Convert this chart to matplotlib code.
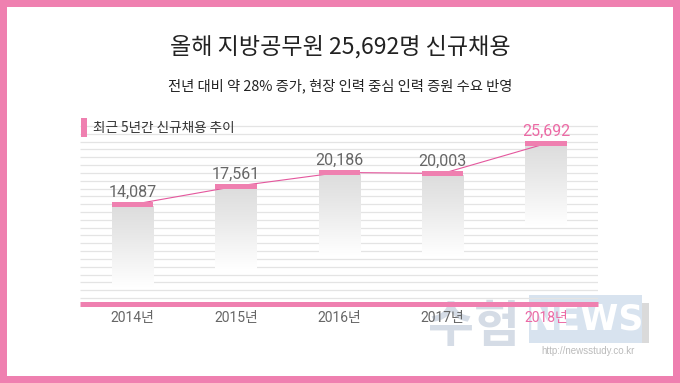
import numpy as np
import matplotlib
matplotlib.use('Agg')
import matplotlib.pyplot as plt
from matplotlib.patches import Rectangle
from matplotlib.colors import LinearSegmentedColormap

# ---- data ----
years = ['2014년', '2015년', '2016년', '2017년', '2018년']
values = [14087, 17561, 20186, 20003, 25692]
value_labels = ['14,087', '17,561', '20,186', '20,003', '25,692']
title = '올해 지방공무원 25,692명 신규채용'
subtitle = '전년 대비 약 28% 증가, 현장 인력 중심 인력 증원 수요 반영'
legend_label = '최근 5년간 신규채용 추이'

# ---- style ----
PINK = '#ef80b0'
LINE_PINK = '#e4579d'
HILITE = '#ec6aa5'
GRAY_TXT = '#666666'
CJK = ['Noto Sans CJK KR', 'DejaVu Sans']
NUM = ['Roboto', 'Noto Sans CJK KR', 'DejaVu Sans']
plt.rcParams['font.family'] = CJK

W, H = 680, 383
fig = plt.figure(figsize=(6.8, 3.83), dpi=100)
fig.patch.set_facecolor(PINK)


def fx(x):
    return x / W


def fy(y):
    return 1 - y / H


def frect(x0, y0, x1, y1, **kw):
    r = Rectangle((fx(x0), fy(y1)), fx(x1) - fx(x0), fy(y0) - fy(y1),
                  transform=fig.transFigure, **kw)
    fig.add_artist(r)
    return r


# white card inside pink border
frect(7, 7, 673, 376, facecolor='white', edgecolor='none', zorder=-10)

# watermark (drawn beneath the chart axes)
frect(535, 303, 649, 343, facecolor='#dadada', edgecolor='none', zorder=-6)
frect(529, 295, 642, 343, facecolor='#d8e3ef', edgecolor='none', zorder=-5)
fig.text(fx(585.5), fy(320), 'NEWS', ha='center', va='center', fontsize=25,
         fontweight='bold', family='DejaVu Sans', color='white', zorder=-4)
fig.text(fx(474), fy(328), '수험', ha='center', va='center', fontsize=36,
         fontweight='bold', color='#d5dce6', zorder=-5)
fig.text(fx(588), fy(351), 'http://newsstudy.co.kr', ha='center', va='center',
         fontsize=7, family='Liberation Sans', color='#bbbbbb', zorder=-4)

# titles
fig.text(0.5, fy(47), title, ha='center', va='center', fontsize=16.6, color='#222222')
fig.text(0.5, fy(86), subtitle, ha='center', va='center', fontsize=10.3, color='#222222')

# axes
ax_top, ax_bot = 120, 303.5
ax = fig.add_axes([fx(80), fy(ax_bot), (598 - 80) / W, (ax_bot - ax_top) / H])
ax.set_facecolor('none')

# decorative horizontal lines
line_px = 126 + 7.82 * np.arange(23)
fracs = (ax_bot - line_px) / (ax_bot - ax_top)
ax.hlines(fracs, 0, 1, transform=ax.transAxes, color='#e4e4e4', lw=0.9, zorder=1)

x = np.arange(len(values))
bw = 0.40
cap = 860
fade = 16200
cmap = LinearSegmentedColormap.from_list('g', ['#ffffff', '#f3f3f3', '#e7e7e7', '#dddddd'])
grad = np.linspace(0, 1, 256).reshape(-1, 1)
for xi, v in zip(x, values):
    ax.imshow(grad, extent=(xi - bw / 2, xi + bw / 2, v - fade, v - cap),
              origin='lower', aspect='auto', cmap=cmap, zorder=2, interpolation='bilinear')

ax.plot(x, np.array(values) - cap / 2, color=LINE_PINK, lw=0.8, zorder=3)
ax.bar(x, cap, bottom=np.array(values) - cap, width=bw, color=PINK, zorder=4)

for i, (xi, v, lab) in enumerate(zip(x, values, value_labels)):
    ax.annotate(lab, (xi, v), xytext=(0, 1.5), textcoords='offset points',
                ha='center', va='bottom', fontsize=11.5, family=NUM,
                color=HILITE if i == len(values) - 1 else GRAY_TXT, zorder=5)

ax.set_xlim(-0.508, 4.502)
ax.set_ylim(-5175, 29738)
ax.set_xticks(x)
ax.set_xticklabels(years, family=NUM, fontsize=10)
for i, t in enumerate(ax.get_xticklabels()):
    t.set_color(HILITE if i == len(years) - 1 else GRAY_TXT)
ax.tick_params(axis='x', length=0, pad=5.5)
ax.set_yticks([])
for s in ['top', 'left', 'right']:
    ax.spines[s].set_visible(False)
ax.spines['bottom'].set_color(PINK)
ax.spines['bottom'].set_linewidth(3.6)
ax.spines['bottom'].set_capstyle('butt')

# legend marker and label
frect(81, 118, 87, 137, facecolor=PINK, edgecolor='none')
fig.text(fx(93), fy(128), legend_label, ha='left', va='center', fontsize=9.8, color='#333333')

fig.savefig('out.png', dpi=100, facecolor=PINK)
